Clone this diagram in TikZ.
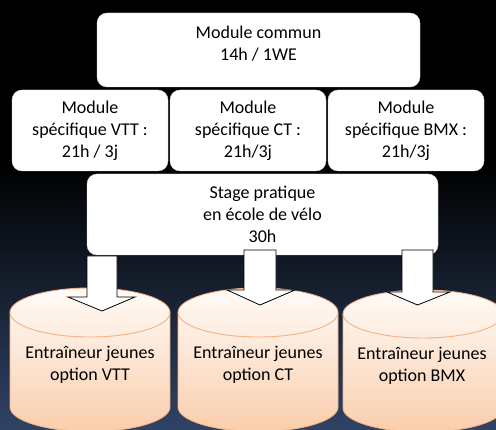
\documentclass[tikz,border=0pt]{standalone}
\usepackage{fontspec}
\setmainfont{Carlito}
\definecolor{bgblue}{RGB}{47,67,101}
\definecolor{cylline}{RGB}{244,177,131}
\definecolor{cyltop}{RGB}{255,251,248}
\definecolor{cylbot}{RGB}{250,206,172}
\begin{document}
\begin{tikzpicture}[x=1pt,y=1pt,
  modbox/.style={fill=white, rounded corners=10pt, draw=white!85!black, line width=0.4pt,
    align=center, font=\fontsize{18}{22}\selectfont, text=black, inner sep=0pt},
  lbl/.style={align=center, font=\fontsize{18}{22}\selectfont, text=black, inner sep=0pt},
  cylbody/.style={draw=cylline, line width=0.9pt, top color=cyltop, bottom color=cylbot},
  cylrim/.style={draw=cylline, line width=0.9pt},
  blockarrow/.style={fill=white, draw=black, line width=0.8pt, line join=miter}]
\useasboundingbox (0,0) rectangle (496,430);
% background
\fill[black] (0,0) rectangle (496,430);
\shade[top color=black, bottom color=bgblue] (0,0) rectangle (496,265);

% boxes
\node[modbox, minimum width=323pt, minimum height=74pt,
  label={[lbl,yshift=6pt]center:{Module commun\\14h / 1WE}}] (commun) at (258.5,380) {};
\node[modbox, minimum width=156pt, minimum height=81pt] (vtt) at (90,299.5)
  {Module\\spécifique VTT :\\21h / 3j};
\node[modbox, minimum width=156pt, minimum height=81pt] (ct) at (248,299.5)
  {Module\\spécifique CT :\\21h/3j};
\node[modbox, minimum width=156pt, minimum height=81pt] (bmx) at (406,299.5)
  {Module\\spécifique BMX :\\21h/3j};
\node[modbox, minimum width=351pt, minimum height=81pt] (stage) at (262.5,215.5)
  {Stage pratique\\en école de vélo\\30h};

% cylinders
\path[cylbody] (10,117.5) -- (10,23) arc[start angle=180, end angle=360, x radius=80, y radius=24.5]
  -- (170,117.5) arc[start angle=0, end angle=180, x radius=80, y radius=24.5] -- cycle;
\draw[cylrim] (10,117.5) arc[start angle=180, end angle=360, x radius=80, y radius=24.5];
\node[lbl] (cylvtt) at (90,65) {Entraîneur jeunes\\option VTT};

\path[cylbody] (178,117.5) -- (178,23) arc[start angle=180, end angle=360, x radius=80, y radius=24.5]
  -- (338,117.5) arc[start angle=0, end angle=180, x radius=80, y radius=24.5] -- cycle;
\draw[cylrim] (178,117.5) arc[start angle=180, end angle=360, x radius=80, y radius=24.5];
\node[lbl] (cylct) at (258,65) {Entraîneur jeunes\\option CT};

\path[cylbody] (343,116) -- (343,22) arc[start angle=180, end angle=360, x radius=80, y radius=24]
  -- (503,116) arc[start angle=0, end angle=180, x radius=80, y radius=24] -- cycle;
\draw[cylrim] (343,116) arc[start angle=180, end angle=360, x radius=80, y radius=24];
\node[lbl] (cylbmx) at (422,64) {Entraîneur jeunes\\option BMX};

% block arrows
\coordinate (tipa) at (102,119);
\coordinate (tipb) at (260,125);
\coordinate (tipc) at (417.5,125);
\draw[blockarrow] (tipa) -- ++(33,14) -- ++(-18,0) -- ++(0,41) -- ++(-30,0) -- ++(0,-41) -- ++(-19,0) -- cycle;
\draw[blockarrow] (tipb) -- ++(35,15) -- ++(-19,0) -- ++(0,40) -- ++(-32,0) -- ++(0,-40) -- ++(-17,0) -- cycle;
\draw[blockarrow] (tipc) -- ++(32.5,13) -- ++(-17,0) -- ++(0,42) -- ++(-31,0) -- ++(0,-42) -- ++(-15,0) -- cycle;
\end{tikzpicture}
\end{document}
